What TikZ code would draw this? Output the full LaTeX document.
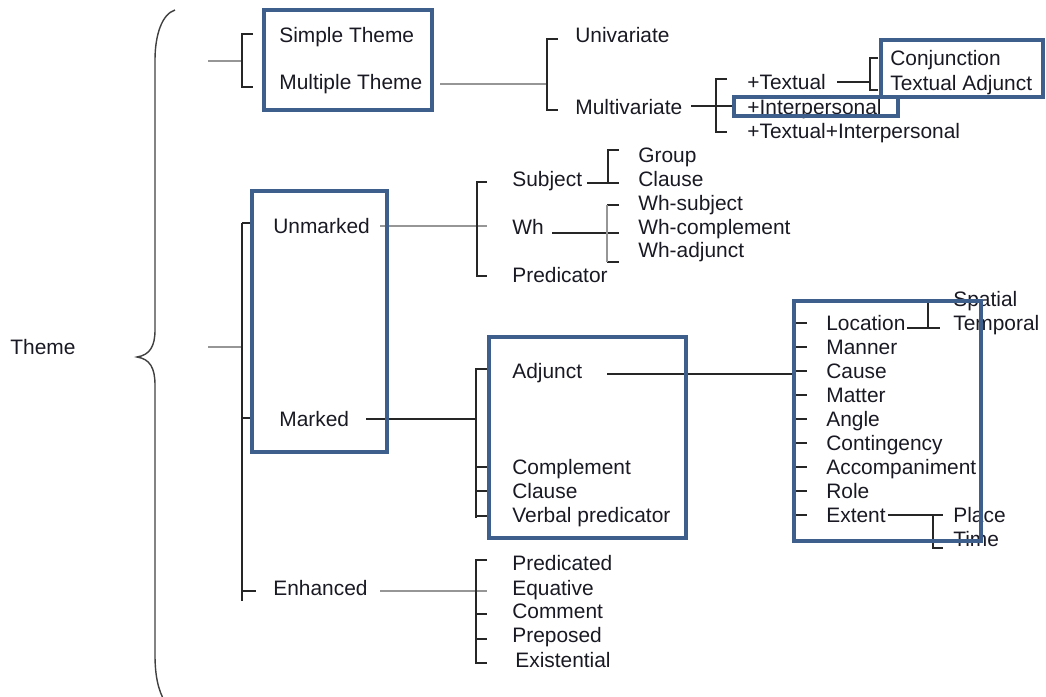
\documentclass[tikz,border=0pt]{standalone}
\usepackage{fontspec}
\setmainfont{Liberation Sans}
\definecolor{boxblue}{RGB}{62,94,140}
\definecolor{linegray}{RGB}{150,150,150}
\definecolor{ink}{RGB}{25,25,35}
\begin{document}
\begin{tikzpicture}[x=0.02cm,y=-0.02cm,
  lbl/.style={anchor=base west, inner sep=0pt, font=\fontsize{11.9pt}{14pt}\selectfont, text=ink},
  br/.style={draw=black!85, line width=0.8pt},
  gr/.style={draw=linegray, line width=1.1pt},
  frame/.style={draw=boxblue, line width=2.3pt}]
\useasboundingbox (0,0) rectangle (1046,697);

% ---------- labels ----------
\node[lbl] (theme) at (10,354) {Theme};
\node[lbl] (simple) at (279,42) {Simple Theme};
\node[lbl] (multiple) at (279,89) {Multiple Theme};
\node[lbl] (univ) at (575,42) {Univariate};
\node[lbl] (multiv) at (575,114) {Multivariate};
\node[lbl] (textual) at (747,89) {+Textual};
\node[lbl] (interp) at (747,114) {+Interpersonal};
\node[lbl] (textint) at (747,138) {+Textual+Interpersonal};
\node[lbl] (conj) at (890,65) {Conjunction};
\node[lbl] (tadj) at (890,90) {Textual Adjunct};

\node[lbl] (unmarked) at (273,233) {Unmarked};
\node[lbl] (subject) at (512,186) {Subject};
\node[lbl] (wh) at (512,234) {Wh};
\node[lbl] (pred) at (512,282) {Predicator};
\node[lbl] (group) at (638,162) {Group};
\node[lbl] (clauseA) at (638,186) {Clause};
\node[lbl] (whs) at (638,210) {Wh-subject};
\node[lbl] (whc) at (638,234) {Wh-complement};
\node[lbl] (wha) at (638,257) {Wh-adjunct};

\node[lbl] (marked) at (279,426) {Marked};
\node[lbl] (adjunct) at (512,378) {Adjunct};
\node[lbl] (complement) at (512,474) {Complement};
\node[lbl] (clauseB) at (512,498) {Clause};
\node[lbl] (verbal) at (512,522) {Verbal predicator};

\node[lbl] (location) at (826,330) {Location};
\node[lbl] (manner) at (826,354) {Manner};
\node[lbl] (cause) at (826,378) {Cause};
\node[lbl] (matter) at (826,402) {Matter};
\node[lbl] (angle) at (826,426) {Angle};
\node[lbl] (contingency) at (826,450) {Contingency};
\node[lbl] (accomp) at (826,474) {Accompaniment};
\node[lbl] (role) at (826,498) {Role};
\node[lbl] (extent) at (826,522) {Extent};
\node[lbl] (spatial) at (953,306) {Spatial};
\node[lbl] (temporal) at (953,330) {Temporal};
\node[lbl] (place) at (953,522) {Place};
\node[lbl] (time) at (953,546) {Time};

\node[lbl] (enhanced) at (273,595) {Enhanced};
\node[lbl] (predicated) at (512,570) {Predicated};
\node[lbl] (equative) at (512,595) {Equative};
\node[lbl] (comment) at (512,618) {Comment};
\node[lbl] (preposed) at (512,642) {Preposed};
\node[lbl] (existential) at (515,667) {Existential};

% ---------- main brace ----------
\draw[draw=black!75, line width=0.8pt]
  (175,10) .. controls (162,14) and (155,35) .. (155,60) -- (155,330)
  .. controls (155,346) and (150,355) .. (137,357)
  .. controls (150,359) and (155,368) .. (155,385) -- (155,655)
  .. controls (155,675) and (158,690) .. (165,702);

% ---------- top branch ----------
\draw[gr] (208,61) -- (242,61);
\draw[br] (253,34) -- (242,34) -- (242,87) -- (253,87);
\draw[gr] (440,84) -- (547,84);
\draw[br] (558,39) -- (547,39) -- (547,110) -- (558,110);
\draw[br] (691,106) -- (733,106);
\draw[br] (727,79) -- (716,79) -- (716,132) -- (727,132);
\draw[br] (837,82) -- (870,82);
\draw[br] (878,58) -- (870,58) -- (870,90) -- (878,90);

% ---------- middle spine ----------
\draw[gr] (208,347) -- (242,347);
\draw[br] (242,223) -- (242,601);
\draw[br] (242,223) -- (252,223);
\draw[br] (242,418) -- (252,418);
\draw[br] (242,591) -- (256,591);

% unmarked
\draw[gr] (380,226) -- (487,226);
\draw[br] (487,182) -- (477,182) -- (477,276) -- (487,276);
\draw[br] (587,183) -- (619,183);
\draw[br] (608,183) -- (608,150) -- (619,150);
\draw[br] (552,233) -- (619,233);
\draw[br] (619,205) -- (607,205);
\draw[br] (619,262) -- (607,262);
\draw[gr] (607,205) -- (607,262);

% marked
\draw[br] (366,419) -- (476,419);
\draw[br] (487,369) -- (476,369) -- (476,518);
\foreach \yy in {467,491,516} \draw[br] (476,\yy) -- (487,\yy);
\draw[br] (607,374) -- (794,374);
\foreach \yy in {323,347,371,395,419,443,467,491,515} \draw[br] (794,\yy) -- (807,\yy);
\draw[br] (907,328) -- (940,328);
\draw[br] (928,328) -- (928,303);
\draw[br] (888,515) -- (943,515);
\draw[br] (933,515) -- (933,548) -- (943,548);

% enhanced
\draw[gr] (380,591) -- (487,591);
\draw[br] (487,560) -- (476,560) -- (476,663) -- (487,663);
\foreach \yy in {614,639} \draw[br] (476,\yy) -- (487,\yy);

% ---------- frames ----------
\draw[frame] (264,10) rectangle (432,110);
\draw[frame] (881,40) rectangle (1043,97);
\draw[frame] (734,97) rectangle (898,116);
\draw[frame] (252,191) rectangle (387,452);
\draw[frame] (489,337) rectangle (686,538);
\draw[frame] (794,301) rectangle (981,541);
\end{tikzpicture}
\end{document}
